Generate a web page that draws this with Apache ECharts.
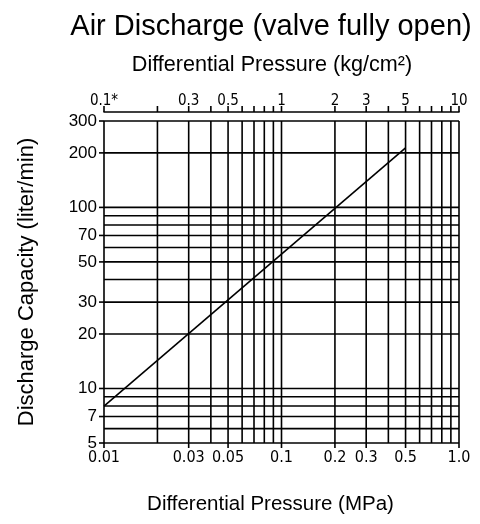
<!DOCTYPE html>
<html>
<head>
<meta charset="utf-8">
<script src="https://cdn.jsdelivr.net/npm/echarts@6/dist/echarts.min.js"></script>
<style>
  html, body { margin: 0; padding: 0; background: #fff; }
  #chart { width: 480px; height: 524px; }
</style>
</head>
<body>
<div id="chart"></div>
<script>
// Flow curve: differential pressure (MPa) vs. discharge capacity (liter/min)
const pressureMPa = [0.01, 0.5];
const dischargeLpm = [8, 213];

// Log grid lines
const xGridValues = [0.01, 0.02, 0.03, 0.04, 0.05, 0.06, 0.07, 0.08, 0.09,
                     0.1, 0.2, 0.3, 0.4, 0.5, 0.6, 0.7, 0.8, 0.9, 1];
const yGridValues = [5, 6, 7, 8, 9, 10, 20, 30, 40, 50, 60, 70, 80, 90, 100, 200, 300];

// Bottom axis (MPa) labels
const xTickValues = [0.01, 0.03, 0.05, 0.1, 0.2, 0.3, 0.5, 1];
const xTickLabels = ['0.01', '0.03', '0.05', '0.1', '0.2', '0.3', '0.5', '1.0'];

// Left axis labels
const yTickValues = [5, 7, 10, 20, 30, 50, 70, 100, 200, 300];
const yTickLabels = ['5', '7', '10', '20', '30', '50', '70', '100', '200', '300'];

// Top axis (kg/cm²) ticks and labels
const topTickValues = [0.1, 0.2, 0.3, 0.4, 0.5, 0.6, 0.7, 0.8, 0.9,
                       1, 2, 3, 4, 5, 6, 7, 8, 9, 10];
const topLabelValues = [0.1, 0.3, 0.5, 1, 2, 3, 5, 10];
const topLabels = ['0.1*', '0.3', '0.5', '1', '2', '3', '5', '10'];

const X_MIN = 0.01, X_MAX = 1, Y_MIN = 5, Y_MAX = 300;
const TOP_MIN = 0.1, TOP_MAX = 10;
const TOP_OFFSET = 9;

const LINE_W = 1.6;
const narrowFont = '"Liberation Sans Narrow", "DejaVu Sans Condensed", "Liberation Sans", sans-serif';
const mainFont = '"Liberation Sans", Arial, sans-serif';

const chart = echarts.init(document.getElementById('chart'), null, { renderer: 'canvas' });

function hLine(p1, p2, w) {
  return {
    type: 'line',
    shape: { x1: p1[0], y1: p1[1], x2: p2[0], y2: p2[1] },
    style: { stroke: '#000', lineWidth: w || LINE_W }
  };
}

const option = {
  backgroundColor: '#fff',
  animation: false,
  title: [
    {
      text: 'Air Discharge (valve fully open)',
      left: 266, top: 7, textAlign: 'center',
      textStyle: { fontFamily: mainFont, fontSize: 29, fontWeight: 'normal', color: '#000' }
    },
    {
      text: 'Differential Pressure (kg/cm²)',
      left: 267, top: 49, textAlign: 'center',
      textStyle: { fontFamily: mainFont, fontSize: 21.6, fontWeight: 'normal', color: '#000' }
    }
  ],
  grid: { left: 104, right: 21, top: 121, bottom: 81, containLabel: false },
  xAxis: [
    {
      type: 'log', logBase: 10, min: X_MIN, max: X_MAX,
      name: 'Differential Pressure (MPa)',
      nameLocation: 'middle', nameGap: 51,
      nameTextStyle: { fontFamily: mainFont, fontSize: 20.5, color: '#000', padding: [0, 22, 0, 0] },
      axisLine: { show: false }, axisTick: { show: false },
      axisLabel: { show: false }, splitLine: { show: false }
    },
    {
      type: 'log', logBase: 10, min: TOP_MIN, max: TOP_MAX,
      position: 'top', offset: TOP_OFFSET,
      axisLine: { show: true, lineStyle: { color: '#000', width: LINE_W } },
      axisTick: { show: false }, axisLabel: { show: false }, splitLine: { show: false }
    }
  ],
  yAxis: [
    {
      type: 'log', logBase: 10, min: Y_MIN, max: Y_MAX,
      name: 'Discharge Capacity (liter/min)',
      nameLocation: 'middle', nameGap: 66, nameRotate: 90,
      nameTextStyle: { fontFamily: mainFont, fontSize: 22, color: '#000' },
      axisLine: { show: false }, axisTick: { show: false },
      axisLabel: { show: false }, splitLine: { show: false }
    }
  ],
  series: [
    // vertical grid lines
    {
      type: 'custom', xAxisIndex: 0, yAxisIndex: 0, silent: true,
      data: xGridValues.map(v => [v, Y_MIN]),
      renderItem: (params, api) => {
        const v = api.value(0);
        return hLine(api.coord([v, Y_MIN]), api.coord([v, Y_MAX]));
      }
    },
    // horizontal grid lines
    {
      type: 'custom', xAxisIndex: 0, yAxisIndex: 0, silent: true,
      data: yGridValues.map(v => [X_MIN, v]),
      renderItem: (params, api) => {
        const v = api.value(1);
        return hLine(api.coord([X_MIN, v]), api.coord([X_MAX, v]));
      }
    },
    // bottom ticks and labels
    {
      type: 'custom', xAxisIndex: 0, yAxisIndex: 0, silent: true, clip: false,
      data: xTickValues.map(v => [v, Y_MIN]),
      renderItem: (params, api) => {
        const p = api.coord([api.value(0), Y_MIN]);
        return {
          type: 'group',
          children: [
            hLine([p[0], p[1]], [p[0], p[1] + 5]),
            {
              type: 'text', x: p[0], y: p[1] + 7,
              style: {
                text: xTickLabels[params.dataIndex], align: 'center', verticalAlign: 'top',
                fontFamily: narrowFont, fontSize: 16, fill: '#000'
              }
            }
          ]
        };
      }
    },
    // left ticks and labels
    {
      type: 'custom', xAxisIndex: 0, yAxisIndex: 0, silent: true, clip: false,
      data: yTickValues.map(v => [X_MIN, v]),
      renderItem: (params, api) => {
        const p = api.coord([X_MIN, api.value(1)]);
        return {
          type: 'group',
          children: [
            hLine([p[0] - 5, p[1]], [p[0], p[1]]),
            {
              type: 'text', x: p[0] - 7, y: p[1],
              style: {
                text: yTickLabels[params.dataIndex], align: 'right', verticalAlign: 'middle',
                fontFamily: mainFont, fontSize: 17, fill: '#000'
              }
            }
          ]
        };
      }
    },
    // top (kg/cm²) ticks
    {
      type: 'custom', xAxisIndex: 1, yAxisIndex: 0, silent: true, clip: false,
      data: topTickValues.map(v => [v, Y_MAX]),
      renderItem: (params, api) => {
        const p = api.coord([api.value(0), Y_MAX]);
        const y = p[1] - TOP_OFFSET;
        return hLine([p[0], y], [p[0], y - 6]);
      }
    },
    // top (kg/cm²) labels
    {
      type: 'custom', xAxisIndex: 1, yAxisIndex: 0, silent: true, clip: false,
      data: topLabelValues.map(v => [v, Y_MAX]),
      renderItem: (params, api) => {
        const p = api.coord([api.value(0), Y_MAX]);
        return {
          type: 'text', x: p[0], y: p[1] - TOP_OFFSET - 3,
          style: {
            text: topLabels[params.dataIndex], align: 'center', verticalAlign: 'bottom',
            fontFamily: narrowFont, fontSize: 15, fill: '#000'
          }
        };
      }
    },
    // discharge curve
    {
      type: 'line', xAxisIndex: 0, yAxisIndex: 0,
      data: pressureMPa.map((x, i) => [x, dischargeLpm[i]]),
      showSymbol: false, symbol: 'none', silent: true,
      lineStyle: { color: '#000', width: 1.6 }
    }
  ]
};

chart.setOption(option);
</script>
</body>
</html>
